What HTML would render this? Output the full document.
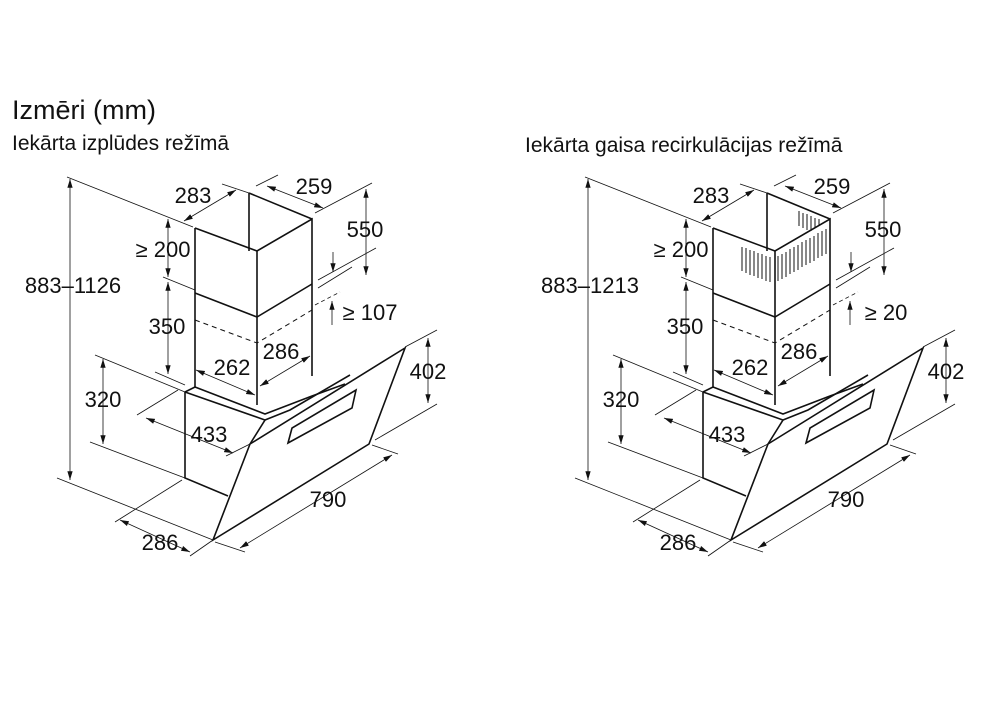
<!DOCTYPE html>
<html><head><meta charset="utf-8"><style>
body{margin:0;background:#fff;width:994px;height:698px;overflow:hidden}
svg text{font-family:"Liberation Sans",sans-serif;fill:#111}
</style></head><body>
<svg width="994" height="698" viewBox="0 0 994 698" xmlns="http://www.w3.org/2000/svg">
<defs>
<marker id="a" viewBox="0 0 10 10" refX="10" refY="5" markerWidth="11" markerHeight="11" orient="auto-start-reverse"><path d="M0,2 L10,5 L0,8 z" fill="#111"/></marker>
<g id="hood" fill="none" stroke="#111">
 <g stroke-width="1.6">
 <polyline points="195,228 195,387"/>
 <polyline points="195,228 257,251 312,219 312,376"/>
 <polyline points="249,193 312,219"/>
 <polyline points="249,193 249,251"/>
 <polyline points="257,251 257,405"/>
 <polyline points="195,293 257,317 312,284"/>
 </g>
 <polyline points="195,320 257,343 312,310" stroke-dasharray="5,4" stroke-width="1"/>
 <g stroke-width="1.6">
 <polyline points="185,392 185,478 228,496"/>
 <polyline points="185,392 195,387 265,414 312,396 345,384"/>
 <polyline points="185,392 265,420 250,444"/>
 <polygon points="250,444 405,348 369,444 213,540" fill="#fff"/>
 <polygon points="288,443 292,428 356,390 352,408" fill="#fff"/>
 <polyline points="265,420 290,410 350,375"/>
 </g>
 <g stroke-width="0.8">
 <line x1="70" y1="179" x2="70" y2="480" marker-start="url(#a)" marker-end="url(#a)"/>
 <line x1="67" y1="177" x2="193" y2="227"/>
 <line x1="57" y1="478" x2="213" y2="540"/>
 <line x1="184" y1="221" x2="236" y2="190" marker-start="url(#a)" marker-end="url(#a)"/>
 <line x1="222" y1="184" x2="249" y2="193"/>
 <line x1="267" y1="186" x2="323" y2="208" marker-start="url(#a)" marker-end="url(#a)"/>
 <line x1="256" y1="186" x2="278" y2="175"/>
 <line x1="315" y1="213" x2="372" y2="183"/>
 <line x1="366" y1="189" x2="366" y2="275" marker-start="url(#a)" marker-end="url(#a)"/>
 <line x1="318" y1="280" x2="376" y2="248"/>
 <line x1="333" y1="252" x2="333" y2="272" marker-end="url(#a)"/>
 <line x1="318" y1="288" x2="352" y2="267"/>
 <line x1="332" y1="325" x2="332" y2="301" marker-end="url(#a)"/>
 <line x1="315" y1="305" x2="340" y2="292" stroke-dasharray="4,3"/>
 <line x1="168" y1="219" x2="168" y2="277" marker-start="url(#a)" marker-end="url(#a)"/>
 <line x1="168" y1="282" x2="168" y2="374" marker-start="url(#a)" marker-end="url(#a)"/>
 <line x1="163" y1="277" x2="195" y2="290"/>
 <line x1="155" y1="372" x2="185" y2="385"/>
 <line x1="103" y1="359" x2="103" y2="444" marker-start="url(#a)" marker-end="url(#a)"/>
 <line x1="95" y1="355" x2="185" y2="392"/>
 <line x1="90" y1="442" x2="185" y2="478"/>
 <line x1="428" y1="338" x2="428" y2="403" marker-start="url(#a)" marker-end="url(#a)"/>
 <line x1="405" y1="347" x2="437" y2="330"/>
 <line x1="375" y1="440" x2="437" y2="404"/>
 <line x1="146" y1="418" x2="233" y2="453" marker-start="url(#a)" marker-end="url(#a)"/>
 <line x1="137" y1="415" x2="178" y2="390"/>
 <line x1="226" y1="456" x2="250" y2="444"/>
 <line x1="196" y1="370" x2="255" y2="395" marker-start="url(#a)" marker-end="url(#a)"/>
 <line x1="260" y1="386" x2="310" y2="356" marker-start="url(#a)" marker-end="url(#a)"/>
 <line x1="240" y1="548" x2="392" y2="455" marker-start="url(#a)" marker-end="url(#a)"/>
 <line x1="372" y1="445" x2="398" y2="454"/>
 <line x1="215" y1="542" x2="245" y2="552"/>
 <line x1="120" y1="520" x2="190" y2="552" marker-start="url(#a)" marker-end="url(#a)"/>
 <line x1="115" y1="522" x2="182" y2="480"/>
 <line x1="190" y1="556" x2="213" y2="540"/>
 </g>
</g>
<g id="grille" stroke="#111" stroke-width="1">
 <line x1="742" y1="247" x2="742" y2="271"/><line x1="746" y1="248" x2="746" y2="273"/><line x1="750" y1="250" x2="750" y2="275"/><line x1="754" y1="251" x2="754" y2="276"/><line x1="758" y1="253" x2="758" y2="278"/><line x1="762" y1="254" x2="762" y2="279"/><line x1="766" y1="256" x2="766" y2="281"/><line x1="770" y1="257" x2="770" y2="282"/>
 <line x1="778" y1="256" x2="778" y2="281"/><line x1="782" y1="254" x2="782" y2="279"/><line x1="786" y1="252" x2="786" y2="277"/><line x1="790" y1="249" x2="790" y2="274"/><line x1="794" y1="247" x2="794" y2="272"/><line x1="798" y1="245" x2="798" y2="270"/><line x1="802" y1="242" x2="802" y2="267"/><line x1="806" y1="240" x2="806" y2="265"/><line x1="810" y1="238" x2="810" y2="263"/><line x1="814" y1="236" x2="814" y2="261"/><line x1="818" y1="233" x2="818" y2="258"/><line x1="822" y1="231" x2="822" y2="256"/><line x1="826" y1="229" x2="826" y2="254"/>
 <line x1="799" y1="211" x2="799" y2="226"/><line x1="803" y1="213" x2="803" y2="228"/><line x1="807" y1="214" x2="807" y2="230"/><line x1="811" y1="216" x2="811" y2="231"/><line x1="815" y1="218" x2="815" y2="228"/><line x1="819" y1="219" x2="819" y2="226"/>
</g>
</defs>
<use href="#hood"/>
<use href="#hood" transform="translate(518,0)"/>
<use href="#grille"/>
<text x="12" y="119" font-size="27">Izmēri (mm)</text>
<text x="12" y="150" font-size="21">Iekārta izplūdes režīmā</text>
<text x="525" y="152" font-size="21">Iekārta gaisa recirkulācijas režīmā</text>
<g font-size="22" text-anchor="middle">
<text x="193" y="203">283</text><text x="314" y="194">259</text><text x="365" y="237">550</text>
<text x="163" y="257">≥ 200</text><text x="167" y="334">350</text><text x="370" y="320">≥ 107</text>
<text x="232" y="375">262</text><text x="281" y="359">286</text><text x="73" y="293">883–1126</text>
<text x="103" y="407">320</text><text x="428" y="379">402</text><text x="209" y="442">433</text>
<text x="328" y="507">790</text><text x="160" y="550">286</text>
<text x="711" y="203">283</text><text x="832" y="194">259</text><text x="883" y="237">550</text>
<text x="681" y="257">≥ 200</text><text x="685" y="334">350</text><text x="886" y="320">≥ 20</text>
<text x="750" y="375">262</text><text x="799" y="359">286</text><text x="590" y="293">883–1213</text>
<text x="621" y="407">320</text><text x="946" y="379">402</text><text x="727" y="442">433</text>
<text x="846" y="507">790</text><text x="678" y="550">286</text>
</g>
</svg>
</body></html>
